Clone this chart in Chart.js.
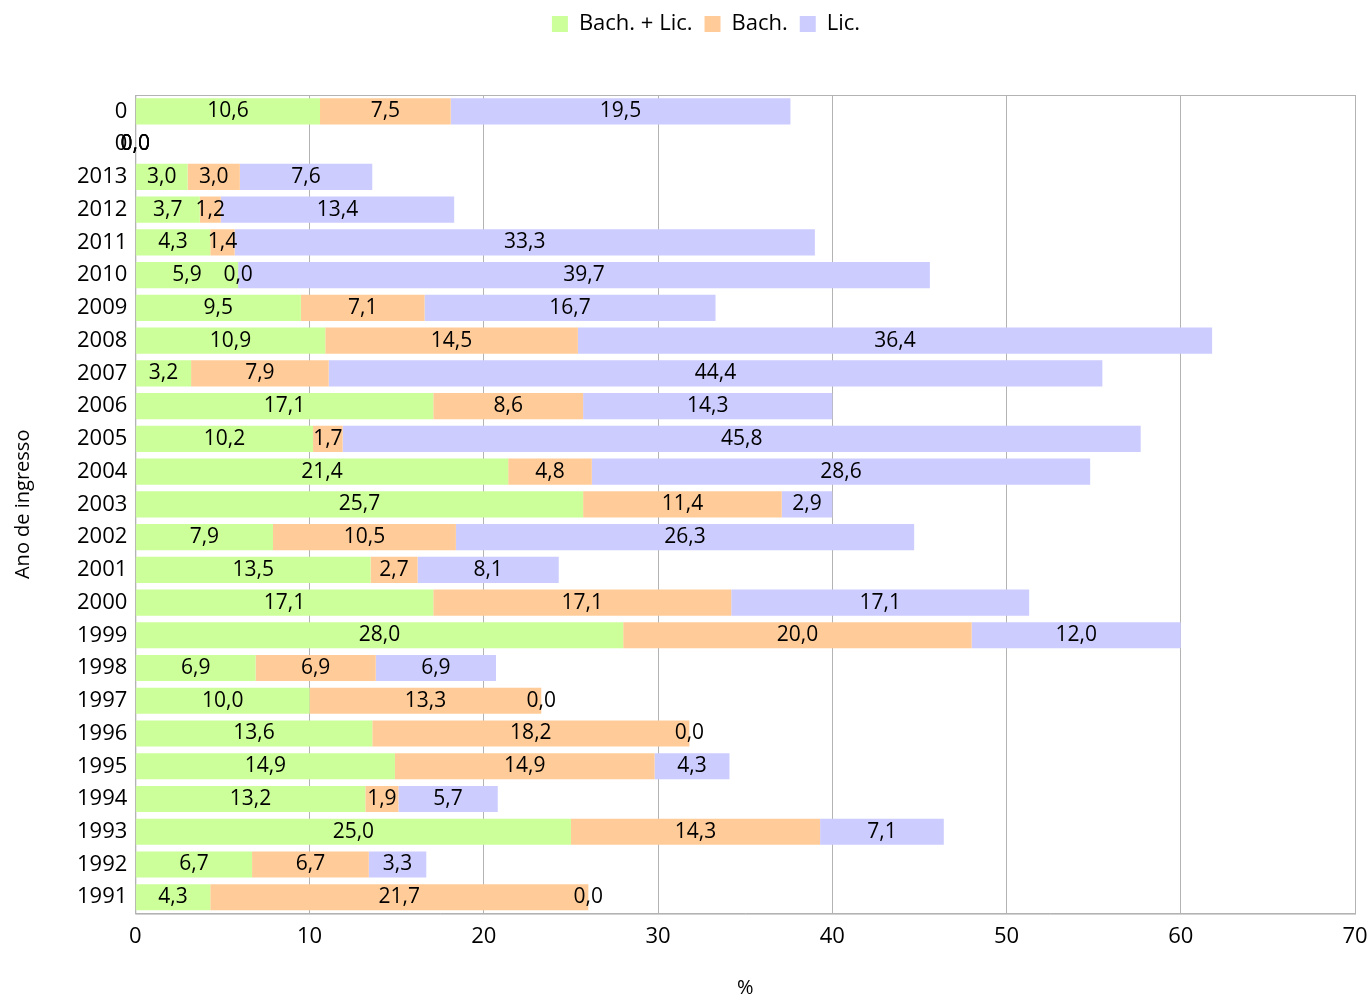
<!DOCTYPE html>
<html>
<head>
<meta charset="utf-8">
<script src="https://cdn.jsdelivr.net/npm/chart.js"></script>
<style>
  body { margin: 0; background: #fff; }
  #wrap { width: 1371px; height: 996px; position: relative; }
</style>
</head>
<body>
<div id="wrap"><canvas id="myChart"></canvas></div>
<script>
const years = ['0', '0', '2013', '2012', '2011', '2010', '2009', '2008', '2007', '2006', '2005', '2004', '2003',
  '2002', '2001', '2000', '1999', '1998', '1997', '1996', '1995', '1994', '1993', '1992', '1991'];
const bachLic = [10.6, 0, 3.0, 3.7, 4.3, 5.9, 9.5, 10.9, 3.2, 17.1, 10.2, 21.4, 25.7,
  7.9, 13.5, 17.1, 28.0, 6.9, 10.0, 13.6, 14.9, 13.2, 25.0, 6.7, 4.3];
const bach = [7.5, 0, 3.0, 1.2, 1.4, 0.0, 7.1, 14.5, 7.9, 8.6, 1.7, 4.8, 11.4,
  10.5, 2.7, 17.1, 20.0, 6.9, 13.3, 18.2, 14.9, 1.9, 14.3, 6.7, 21.7];
const lic = [19.5, 0, 7.6, 13.4, 33.3, 39.7, 16.7, 36.4, 44.4, 14.3, 45.8, 28.6, 2.9,
  26.3, 8.1, 17.1, 12.0, 6.9, 0.0, 0.0, 4.3, 5.7, 7.1, 3.3, 0.0];
const xTicks = [0, 10, 20, 30, 40, 50, 60, 70];

const font = 'Open Sans';

// labels inside the bars, like the spreadsheet does it
const barLabels = {
  id: 'barLabels',
  afterDatasetsDraw(chart) {
    const ctx = chart.ctx;
    ctx.save();
    ctx.font = '21px "' + font + '"';
    ctx.fillStyle = '#000';
    ctx.textAlign = 'center';
    ctx.textBaseline = 'middle';
    chart.data.datasets.forEach((ds, i) => {
      chart.getDatasetMeta(i).data.forEach((bar, j) => {
        const txt = ds.data[j].toFixed(1).replace('.', ',');
        ctx.fillText(txt, (bar.x + bar.base) / 2, bar.y);
      });
    });
    ctx.restore();
  }
};

const plotBorder = {
  id: 'plotBorder',
  beforeDatasetsDraw(chart) {
    const a = chart.chartArea;
    const ctx = chart.ctx;
    ctx.save();
    ctx.strokeStyle = '#b3b3b3';
    ctx.lineWidth = 1;
    ctx.strokeRect(a.left + 0.5, a.top + 0.5, a.right - a.left, a.bottom - a.top);
    ctx.restore();
  }
};

// extra room under the legend, and nudge it a bit
const legendMargin = {
  id: 'legendMargin',
  beforeInit(chart) {
    const fitValue = chart.legend.fit;
    chart.legend.fit = function fit() {
      fitValue.bind(chart.legend)();
      this.height += 49;
    };
  },
  afterLayout(chart) {
    chart.legend.left += 34;
    chart.legend.top -= 1;
  }
};

const config = {
  type: 'bar',
  data: {
    labels: years,
    datasets: [
      { label: 'Bach. + Lic.', data: bachLic, backgroundColor: '#ccff99' },
      { label: 'Bach.', data: bach, backgroundColor: '#ffcc99' },
      { label: 'Lic.', data: lic, backgroundColor: '#ccccff' }
    ]
  },
  options: {
    indexAxis: 'y',
    responsive: true,
    maintainAspectRatio: false,
    animation: false,
    categoryPercentage: 0.8,
    barPercentage: 1.0,
    layout: { padding: { top: 2, right: 4, left: 11, bottom: 0 } },
    plugins: {
      legend: {
        position: 'top',
        labels: {
          boxWidth: 16,
          boxHeight: 16,
          padding: 12,
          color: '#000',
          font: { family: font, size: 22 }
        }
      },
      tooltip: { enabled: false }
    },
    scales: {
      x: {
        stacked: true,
        min: 0,
        max: 70,
        afterBuildTicks: (axis) => { axis.ticks = xTicks.map(v => ({ value: v })); },
        afterFit: (axis) => { axis.paddingRight = 16; },
        grid: { color: '#b3b3b3', drawTicks: false },
        border: { color: '#b3b3b3' },
        ticks: { color: '#000', padding: 10, font: { family: font, size: 22 } },
        title: {
          display: true,
          text: '%',
          color: '#000',
          font: { family: font, size: 20, lineHeight: 1 },
          padding: { top: 18, bottom: -2 }
        }
      },
      y: {
        stacked: true,
        grid: { display: false, drawTicks: false },
        border: { color: '#b3b3b3' },
        ticks: { color: '#000', padding: 8, autoSkip: false, font: { family: font, size: 22 } },
        title: {
          display: true,
          text: 'Ano de ingresso',
          color: '#000',
          font: { family: font, size: 20 },
          padding: { top: 0, bottom: 34 }
        }
      }
    }
  },
  plugins: [barLabels, plotBorder, legendMargin]
};

new Chart(document.getElementById('myChart'), config);
</script>
</body>
</html>
